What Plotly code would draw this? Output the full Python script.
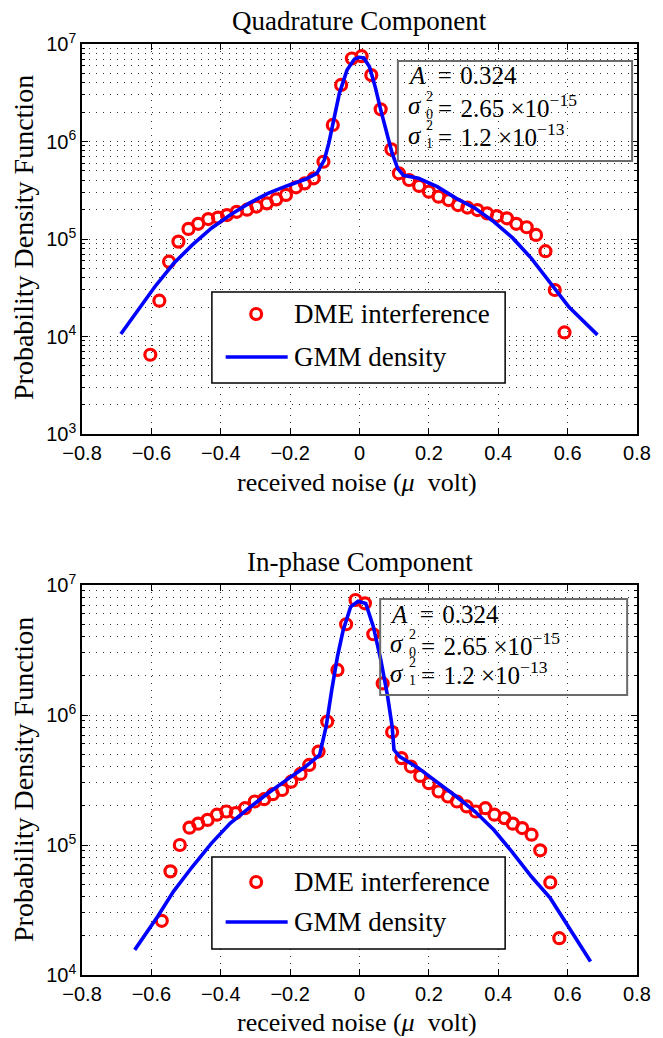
import plotly.graph_objects as go

# ---------------- data: Quadrature component ----------------
q_x = [-0.603, -0.577, -0.549, -0.522, -0.493, -0.465, -0.436, -0.408, -0.382, -0.354,
       -0.324, -0.297, -0.267, -0.240, -0.212, -0.183, -0.158, -0.132, -0.104, -0.077,
       -0.053, -0.022, 0.006, 0.034, 0.061, 0.092, 0.1135, 0.143, 0.172, 0.200,
       0.228, 0.257, 0.284, 0.311, 0.340, 0.368, 0.396, 0.425, 0.452, 0.482,
       0.509, 0.536, 0.563, 0.591]
q_pdf = [6.5e3, 2.33e4, 5.85e4, 9.4e4, 1.27e5, 1.43e5, 1.6e5, 1.66e5, 1.76e5, 1.9e5,
         2.0e5, 2.15e5, 2.32e5, 2.55e5, 2.83e5, 3.39e5, 3.72e5, 4.19e5, 6.2e5, 1.48e6,
         3.8e6, 7.1e6, 7.5e6, 4.8e6, 2.14e6, 8.3e5, 4.72e5, 4.03e5, 3.5e5, 3.06e5,
         2.72e5, 2.51e5, 2.23e5, 2.1e5, 1.98e5, 1.83e5, 1.72e5, 1.63e5, 1.43e5, 1.32e5,
         1.1e5, 7.5e4, 3.0e4, 1.1e4]

q_fit_x = [-0.688, -0.645, -0.590, -0.536, -0.482, -0.427, -0.373, -0.319, -0.264, -0.210,
           -0.156, -0.123, -0.1016, -0.0885, -0.0744, -0.058, -0.036, -0.0147, -0.0016,
           0.0125, 0.0288, 0.0451, 0.0614, 0.0777, 0.094, 0.110, 0.1265, 0.170, 0.224,
           0.279, 0.333, 0.387, 0.442, 0.496, 0.550, 0.604, 0.686]
q_fit = [1.06e4, 1.73e4, 3.24e4, 5.6e4, 8.7e4, 1.29e5, 1.76e5, 2.32e5, 2.94e5, 3.5e5,
         4.1e5, 4.7e5, 6.46e5, 9.6e5, 1.66e6, 3.12e6, 5.4e6, 7.0e6, 7.3e6,
         7.2e6, 5.85e6, 3.65e6, 2.1e6, 1.21e6, 7.6e5, 5.3e5, 4.5e5, 4.19e5, 3.44e5,
         2.61e5, 2.07e5, 1.51e5, 1.02e5, 6.3e4, 3.5e4, 2.0e4, 1.04e4]

# ---------------- data: In-phase component ----------------
i_x = [-0.570, -0.545, -0.518, -0.490, -0.465, -0.438, -0.411, -0.384, -0.357, -0.330,
       -0.302, -0.275, -0.250, -0.223, -0.197, -0.170, -0.145, -0.118, -0.093, -0.0636,
       -0.0386, -0.0114, 0.0157, 0.0397, 0.0668, 0.094, 0.121, 0.148, 0.175, 0.200,
       0.228, 0.255, 0.281, 0.309, 0.335, 0.363, 0.389, 0.418, 0.442, 0.469,
       0.496, 0.521, 0.550, 0.576]
i_pdf = [2.61e4, 6.27e4, 1.0e5, 1.36e5, 1.46e5, 1.56e5, 1.71e5, 1.81e5, 1.76e5, 1.92e5,
         2.16e5, 2.25e5, 2.46e5, 2.65e5, 3.07e5, 3.52e5, 4.13e5, 5.23e5, 8.9e5, 2.22e6,
         4.99e6, 7.67e6, 7.23e6, 4.18e6, 1.75e6, 7.4e5, 4.66e5, 4.01e5, 3.4e5, 2.99e5,
         2.58e5, 2.36e5, 2.16e5, 1.98e5, 1.81e5, 1.92e5, 1.71e5, 1.61e5, 1.46e5, 1.35e5,
         1.2e5, 9.1e4, 5.15e4, 1.92e4]

i_fit_x = [-0.648, -0.582, -0.536, -0.482, -0.427, -0.373, -0.319, -0.264, -0.210, -0.156,
           -0.115, -0.1016, -0.096, -0.080, -0.0636, -0.047, -0.0255, -0.004, 0.018,
           0.0397, 0.0614, 0.081, 0.094, 0.0994, 0.1157, 0.170, 0.224, 0.279, 0.333,
           0.387, 0.442, 0.496, 0.550, 0.666]
i_fit = [1.56e4, 2.82e4, 4.4e4, 6.8e4, 1.03e5, 1.47e5, 1.92e5, 2.5e5, 3.17e5, 4.0e5,
         4.93e5, 7.2e5, 8.2e5, 1.56e6, 2.81e6, 4.5e6, 6.8e6, 7.5e6, 7.2e6,
         4.8e6, 2.65e6, 1.39e6, 8.2e5, 5.4e5, 4.79e5, 3.9e5, 3.07e5, 2.36e5, 1.81e5,
         1.31e5, 8.7e4, 5.7e4, 3.9e4, 1.27e4]

# ---------------- axis ticks ----------------
x_ticks = [-0.8, -0.6, -0.4, -0.2, 0, 0.2, 0.4, 0.6, 0.8]
x_ticktext = ["\u22120.8", "\u22120.6", "\u22120.4", "\u22120.2", "0", "0.2", "0.4", "0.6", "0.8"]
y_ticks_top = [1e3, 1e4, 1e5, 1e6, 1e7]
y_ticktext_top = ["10<sup>3</sup>", "10<sup>4</sup>", "10<sup>5</sup>", "10<sup>6</sup>", "10<sup>7</sup>"]
y_ticks_bot = [1e4, 1e5, 1e6, 1e7]
y_ticktext_bot = ["10<sup>4</sup>", "10<sup>5</sup>", "10<sup>6</sup>", "10<sup>7</sup>"]

fit_params = ["<i>A</i>\u2002=\u20040.324",
              "=\u20042.65 \u00d710<sup>\u221215</sup>",
              "=\u20041.2 \u00d710<sup>\u221213</sup>"]
# stacked superscript / subscript of the two variance symbols
sigma_scripts = ["2<br>0", "2<br>1"]

# ---------------- geometry ----------------
W, H = 663, 1038
ML, MR, MT, MB = 82, 17, 44, 63
PW, PH = W - ML - MR, H - MT - MB


def px(x):
    return (x - ML) / PW


def py(y):
    return (H - MB - y) / PH


SERIF = "Liberation Serif"
SANS = "Liberation Sans"
RED = "#ff0000"
BLUE = "#0000ff"

fig = go.Figure()

fig.add_trace(go.Scatter(x=q_x, y=q_pdf, mode="markers", xaxis="x", yaxis="y",
                         marker=dict(symbol="circle-open", size=11, color=RED,
                                     line=dict(width=3.2, color=RED)),
                         showlegend=False))
fig.add_trace(go.Scatter(x=q_fit_x, y=q_fit, mode="lines", xaxis="x", yaxis="y",
                         line=dict(color=BLUE, width=3.6), showlegend=False))
fig.add_trace(go.Scatter(x=i_x, y=i_pdf, mode="markers", xaxis="x2", yaxis="y2",
                         marker=dict(symbol="circle-open", size=11, color=RED,
                                     line=dict(width=3.2, color=RED)),
                         showlegend=False))
fig.add_trace(go.Scatter(x=i_fit_x, y=i_fit, mode="lines", xaxis="x2", yaxis="y2",
                         line=dict(color=BLUE, width=3.6), showlegend=False))

grid_dash = "1px,6px"
grid_color = "#333333"


def xaxis_style(anchor):
    return dict(anchor=anchor, range=[-0.8, 0.8], tickmode="array", tickvals=x_ticks,
                ticktext=x_ticktext, ticks="inside", ticklen=6, tickwidth=1,
                tickcolor="black", showline=True, linecolor="black", linewidth=1.5,
                mirror="ticks", showgrid=True, gridcolor=grid_color, griddash=grid_dash,
                gridwidth=1, zeroline=False,
                tickfont=dict(family=SANS, size=20, color="black"))


def yaxis_style(anchor, lo, hi, tv, tt, domain):
    minor_vals = [m * 10 ** e for e in range(lo, hi) for m in range(2, 10)]
    return dict(anchor=anchor, type="log", range=[lo, hi], domain=domain,
                tickmode="array", tickvals=tv, ticktext=tt, ticks="inside", ticklen=6,
                tickwidth=1, tickcolor="black", showline=True, linecolor="black",
                linewidth=1.5, mirror="ticks", showgrid=True, gridcolor=grid_color,
                griddash=grid_dash, gridwidth=1, zeroline=False,
                minor=dict(tickmode="array", tickvals=minor_vals, ticks="inside",
                           ticklen=3, tickcolor="black", showgrid=True,
                           gridcolor=grid_color, griddash=grid_dash, gridwidth=1),
                tickfont=dict(family=SANS, size=20, color="black"))


top_dom = [py(434), 1.0]
bot_dom = [0.0, py(585)]

fig.update_layout(
    width=W, height=H,
    margin=dict(l=ML, r=MR, t=MT, b=MB),
    paper_bgcolor="white", plot_bgcolor="white",
    xaxis=xaxis_style("y"),
    yaxis=yaxis_style("x", 3, 7, y_ticks_top, y_ticktext_top, top_dom),
    xaxis2=xaxis_style("y2"),
    yaxis2=yaxis_style("x2", 4, 7, y_ticks_bot, y_ticktext_bot, bot_dom),
)

annotations = []
shapes = []


def text(x, y, s, size=24, family=SERIF, xanchor="center", angle=0, pad=1):
    annotations.append(dict(x=px(x), y=py(y), xref="paper", yref="paper", text=s,
                            showarrow=False, xanchor=xanchor, yanchor="middle",
                            textangle=angle, borderpad=pad, borderwidth=0,
                            align="left",
                            font=dict(family=family, size=size, color="black")))


# titles and axis labels for each panel
text(364, 21, "Quadrature Component", size=27)
text(364, 562, "In-phase Component", size=27)

text(22, 237, "Probability Density Function", size=28, angle=-90)
text(22, 779, "Probability Density Function", size=28, angle=-90)
text(361, 482, "received noise (<i>\u03bc</i>\u2002volt)", size=26)
text(361, 1022, "received noise (<i>\u03bc</i>\u2002volt)", size=26)


# fitted-parameter boxes
def param_box(x0, y0, x1, y1):
    shapes.append(dict(type="rect", xref="paper", yref="paper",
                       x0=px(x0), x1=px(x1), y0=py(y1), y1=py(y0),
                       line=dict(color="#6b6b6b", width=2), fillcolor="rgba(0,0,0,0)"))
    tx = x0 + 10
    text(tx, y0 + 15, fit_params[0], size=25, xanchor="left", pad=0)
    for k, row_y in enumerate([y0 + 45, y0 + 74]):
        text(tx, row_y, "<i>\u03c3</i>", size=25, xanchor="left", pad=0)
        text(tx + 19, row_y - 1, sigma_scripts[k], size=14, xanchor="left", pad=0)
        text(tx + 31, row_y, fit_params[k + 1], size=25, xanchor="left", pad=0)


param_box(403, 61, 641, 161)
param_box(385, 599, 636, 695)


# legend boxes
def legend_box(y0, y1, ya, yb):
    shapes.append(dict(type="rect", xref="paper", yref="paper",
                       x0=px(214), x1=px(512), y0=py(y1), y1=py(y0),
                       line=dict(color="black", width=1.5), fillcolor="white"))
    r = 5.5
    shapes.append(dict(type="circle", xref="paper", yref="paper",
                       x0=px(259 - r), x1=px(259 + r), y0=py(ya + r), y1=py(ya - r),
                       line=dict(color=RED, width=3.2)))
    shapes.append(dict(type="line", xref="paper", yref="paper",
                       x0=px(228), x1=px(291), y0=py(yb), y1=py(yb),
                       line=dict(color=BLUE, width=3.6)))
    text(296, ya, "DME interference", size=27, xanchor="left")
    text(296, yb, "GMM density", size=27, xanchor="left")


legend_box(292, 383, 314, 357)
legend_box(857, 949, 882, 922)

fig.update_layout(annotations=annotations, shapes=shapes)

fig.write_html("out.html")
